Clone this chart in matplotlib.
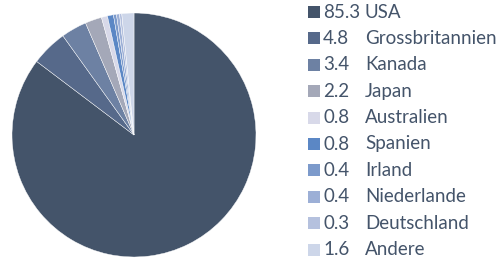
import matplotlib.pyplot as plt
from matplotlib.patches import Rectangle

# Market share by country (percent)
countries = ['USA', 'Grossbritannien', 'Kanada', 'Japan', 'Australien',
             'Spanien', 'Irland', 'Niederlande', 'Deutschland', 'Andere']
shares = [85.3, 4.8, 3.4, 2.2, 0.8, 0.8, 0.4, 0.4, 0.3, 1.6]
share_labels = ['85.3', '4.8', '3.4', '2.2', '0.8', '0.8', '0.4', '0.4', '0.3', '1.6']
colors = ['#44546A', '#56698A', '#6D81A3', '#A4A8B8', '#D8D9E9',
          '#5B87C5', '#7C9ACB', '#9CAFD6', '#B5C1DE', '#CDD6E9']
text_color = '#44546A'

plt.rcParams['font.family'] = ['Lato', 'DejaVu Sans']

fig = plt.figure(figsize=(4.99, 2.6), dpi=100)
W, H = 499, 260

# pie area: center (134,135), radius 122 px
r = 122
ax = fig.add_axes([(134 - r) / W, (H - 135 - r) / H, 2 * r / W, 2 * r / H])
ax.pie(shares, colors=colors, startangle=90, counterclock=False,
       wedgeprops=dict(linewidth=0.3, edgecolor='white'))
ax.set_aspect('equal')
ax.set_xlim(-1, 1)
ax.set_ylim(-1, 1)

# legend drawn by hand
y0, dy = 12, 26.4
for i, (lab, val, c) in enumerate(zip(countries, share_labels, colors)):
    yc = y0 + i * dy
    fig.patches.append(Rectangle((308 / W, (H - yc - 6) / H), 12 / W, 12 / H,
                                 transform=fig.transFigure, facecolor=c, edgecolor='none'))
    fig.text(323 / W, (H - yc) / H, val, fontsize=13.5, color=text_color, va='center')
    fig.text(365 / W, (H - yc) / H, lab, fontsize=13.5, color=text_color, va='center')

fig.savefig('out.png', dpi=100)
